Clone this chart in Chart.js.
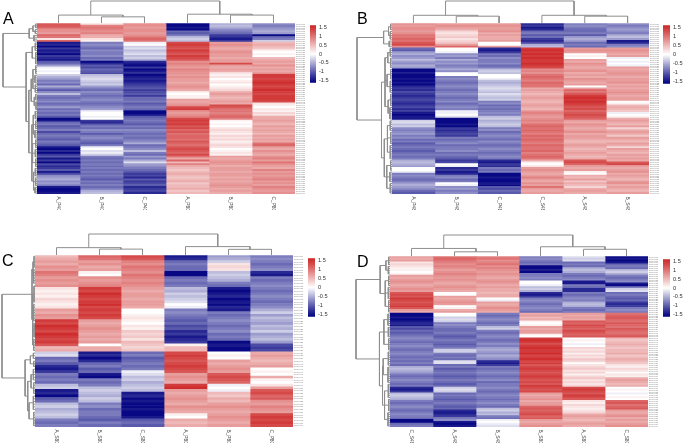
<!DOCTYPE html>
<html><head><meta charset="utf-8">
<script src="https://cdn.jsdelivr.net/npm/chart.js@4.4.1/dist/chart.umd.min.js"></script>
<style>
html,body{margin:0;padding:0;background:#fff;}
#wrap{position:relative;width:685px;height:443px;overflow:hidden;background:#fff;}
#wrap canvas{position:absolute;}
.lt{position:absolute;font-family:"Liberation Sans",Arial,sans-serif;font-size:16px;line-height:16px;color:#000;}
</style></head><body><div id="wrap"></div>
<script>
// ---------------- DATA ----------------
// Panel A
const colsA = ['A_P40','B_P40','C_P40','A_P80','B_P80','C_P80'];
const a_A_P40 = [1.2,1.2,1.1,0.8,0.8,0.7,1.1,1.0,0.2,1.1,
-1.4,-1.3,-1.5,-1.2,-1.4,-1.3,-1.5,-1.2,-1.3,-1.4,
-1.0,-0.9,-0.6,-0.1,0.0,-0.1,0.0,-0.3,-0.5,-0.6,
-0.8,-0.7,-0.9,-0.5,-0.8,-1.0,-0.7,-0.4,-0.8,-0.9,
-0.8,-0.7,-0.9,-0.8,-0.6,-0.9,-0.8,-0.9,-0.8,-1.0,
-1.5,-1.4,-0.9,-0.8,-1.0,-0.9,-0.8,-1.1,-0.9,-0.8,
-0.9,-1.0,-0.8,-0.9,-1.0,-1.4,-1.5,-1.3,-1.5,-1.2,
-1.0,-1.4,-1.2,-1.5,-1.1,-1.3,-1.2,-1.0,-1.4,-1.1,
-0.7,-0.6,-0.5,-0.7,-0.6,-0.8,-1.4,-1.5,-1.5,-1.4];
const a_B_P40 = [0.2,0.9,1.0,0.9,0.8,0.9,0.6,0.6,0.2,0.1,
-0.8,-0.7,-0.8,-0.9,-0.7,-0.8,-0.8,-0.7,-0.9,-0.8,
-1.5,-1.3,-1.0,-1.1,-0.9,-1.0,-1.1,-0.4,-0.3,-0.2,
-0.3,-0.4,-0.3,-0.6,-0.8,-0.9,-0.7,-0.8,-0.9,-0.8,
-0.7,-0.8,-0.9,-0.8,-0.7,-0.6,-0.1,0.0,0.0,-0.1,
0.0,-1.2,-1.3,-1.0,-0.8,-0.9,-0.7,-0.8,-1.0,-0.8,
-0.7,-0.8,-0.9,-1.0,-0.8,-0.1,0.0,-0.2,-0.1,-0.3,
-0.8,-0.9,-0.8,-0.9,-0.8,-0.9,-0.8,-0.9,-0.8,-0.9,
-0.8,-0.9,-1.0,-0.8,-0.9,-0.8,-0.9,-0.8,-0.5,-0.4];
const a_C_P40 = [0.8,0.8,0.7,0.8,0.8,0.7,0.8,1.0,1.1,1.0,
-0.1,0.0,-0.3,-0.2,-0.4,-0.3,-0.2,-0.4,-0.3,-0.5,
-1.3,-1.4,-1.5,-1.2,-1.5,-1.4,-1.3,-1.5,-1.4,-1.3,
-1.4,-1.3,-1.2,-1.1,-1.0,-1.2,-1.1,-1.0,-1.2,-0.9,
-0.9,-0.8,-1.0,-0.9,-0.8,-0.9,-1.5,-1.5,-1.4,-1.0,
-0.9,-0.8,-0.9,-1.0,-0.8,-0.9,-0.7,-0.8,-0.9,-0.8,
-0.9,-0.8,-0.7,-0.5,-0.9,-0.8,-0.7,-0.4,-0.8,-0.9,
-0.6,-0.8,-0.5,-0.2,-0.6,-0.7,-0.8,-0.9,-1.0,-1.2,
-1.1,-1.3,-1.0,-1.2,-1.1,-1.0,-1.3,-1.2,-1.1,-1.3];
const a_A_P80 = [-1.5,-1.5,-1.4,-1.5,-0.9,-1.0,-0.8,-0.4,-0.3,-0.4,
1.3,1.4,1.3,1.2,1.4,1.3,1.2,1.4,1.3,1.2,
0.8,0.9,0.8,0.7,0.9,0.8,0.8,0.7,0.8,0.7,
0.7,0.6,0.7,0.8,0.7,0.6,0.1,0.0,0.1,0.1,
0.7,0.6,0.7,0.8,1.3,1.4,0.8,0.7,0.8,0.9,
1.3,1.4,1.3,1.4,1.2,1.3,1.1,1.2,1.0,1.1,
1.1,1.0,1.2,1.1,1.0,1.2,1.3,1.2,1.1,1.3,
1.0,0.6,1.1,0.5,0.9,0.6,0.5,0.4,0.5,0.6,
0.5,0.4,0.5,0.6,0.4,0.5,0.5,0.6,0.4,0.5];
const a_B_P80 = [-0.5,-0.4,-0.5,-0.7,-0.8,-0.9,-1.2,-1.3,-1.4,-1.2,
0.7,0.8,0.7,0.6,0.7,0.8,0.7,0.7,0.6,0.7,
0.7,1.3,0.7,0.6,0.7,0.6,0.2,0.1,0.2,0.0,
0.1,0.2,0.0,0.1,0.2,0.3,0.6,0.7,0.6,0.5,
0.6,0.7,0.6,1.3,1.2,1.0,1.0,0.9,1.0,1.1,
0.9,0.1,0.0,0.1,0.0,0.2,0.3,0.2,0.1,0.3,
0.2,0.3,0.1,0.2,0.3,0.2,0.0,0.1,0.2,0.1,
0.7,0.6,0.7,0.8,0.7,0.6,0.7,0.7,0.6,0.7,
0.7,0.6,0.7,0.6,0.7,0.8,0.7,0.6,0.7,0.6];
const a_C_P80 = [-0.7,-0.8,-0.7,-0.6,-0.5,-0.6,-1.5,-0.9,-0.8,-0.3,
0.5,0.6,0.5,0.4,0.1,0.0,0.1,0.0,0.5,0.6,
0.7,0.6,0.8,0.6,0.7,0.6,0.8,1.4,1.4,1.3,
1.4,1.5,1.4,1.3,1.4,1.5,1.4,1.3,1.4,1.4,
1.4,1.3,0.2,0.1,0.0,0.2,0.1,0.3,0.2,0.6,
0.6,0.7,0.6,0.5,0.7,0.6,0.7,0.6,0.5,0.7,
0.6,0.7,0.6,1.0,1.1,0.7,0.6,0.8,0.7,0.6,
0.8,0.9,0.7,1.0,0.8,0.7,0.6,0.9,0.7,0.8,
0.7,0.8,0.9,0.7,0.8,0.7,0.9,0.8,0.7,0.8];

// Panel B
const colsB = ['A_P48','B_P48','C_P48','C_S48','A_S48','B_S48'];
const b_A_P48 = [0.8,0.7,0.8,0.8,0.7,0.8,1.0,1.0,1.1,1.0,
1.2,1.3,0.8,-0.9,-1.0,-0.6,-0.5,-0.7,-0.6,-0.4,
-0.6,-0.7,-0.5,-0.6,-1.5,-1.5,-1.4,-1.5,-1.5,-1.4,
-1.5,-1.4,-1.5,-1.3,-1.2,-1.3,-1.1,-1.2,-1.3,-1.2,
-1.1,-1.2,-1.3,-1.2,-1.1,-1.3,-1.2,-1.4,-1.5,-1.4,
-1.4,-0.3,-0.2,-0.4,-0.3,-0.7,-0.8,-0.7,-0.6,-0.8,
-0.7,-0.9,-0.8,-1.0,-0.9,-0.8,-0.9,-1.0,-0.9,-0.8,
-0.9,-0.8,-0.5,-0.4,-0.5,-0.6,0.0,0.0,-0.1,-0.8,
-0.7,-0.8,-0.9,-0.8,-0.6,-0.5,-0.6,-0.7,-0.9,-1.0];
const b_B_P48 = [0.7,0.8,0.7,0.6,0.3,0.2,0.3,0.4,0.2,0.3,
0.4,0.7,1.1,0.0,0.0,-0.1,-0.7,-0.6,-0.8,-0.5,
-0.7,-0.6,-0.8,-0.7,-0.5,-0.7,0.0,0.0,-0.8,-0.7,
-0.8,-0.9,-0.8,-0.7,-0.8,-0.9,-0.8,-0.7,-0.8,-0.9,
-0.8,-0.7,-0.9,-0.8,-0.7,-0.8,-0.1,-0.1,0.0,-0.2,
-1.5,-1.5,-1.5,-1.4,-1.5,-1.2,-1.3,-1.2,-1.1,-1.2,
-0.8,-0.9,-0.8,-0.7,-0.9,-0.8,-0.8,-0.7,-0.9,-0.8,
-0.9,-1.0,-1.2,-1.1,0.0,-0.1,-1.3,-1.2,-1.4,-1.3,
-0.8,-0.7,-0.9,-0.8,0.0,-0.1,-0.7,-0.6,-0.8,-0.7];
const b_C_P48 = [0.7,0.8,0.7,0.7,0.8,0.6,0.7,0.6,0.6,0.7,
0.0,0.0,0.7,-1.3,-1.4,-1.2,-0.8,-0.9,-0.7,-0.8,
-0.8,-0.7,-0.9,-0.8,-0.4,-0.3,-0.4,0.0,0.0,-0.1,
-0.4,-0.5,-0.4,-0.3,-0.2,-0.3,-0.4,-0.2,-0.3,-0.4,
-0.3,-0.8,-0.7,-0.9,-0.8,-0.9,-0.8,-0.7,-0.8,-0.4,
-0.3,-0.5,-0.4,-0.3,-0.4,-0.8,-0.7,-0.9,-0.8,-0.7,
-0.8,-0.9,-0.7,-0.8,-0.9,-0.8,-0.7,-0.8,-0.9,-0.8,
-0.7,-0.8,-1.3,-1.4,-1.2,-1.3,-0.8,-0.9,-0.8,-1.5,
-1.5,-1.4,-1.5,-1.5,-1.4,-1.5,-1.0,-1.1,-0.9,-1.0];
const b_C_S48 = [-1.3,-1.2,-1.4,-1.3,-0.9,-0.8,-1.0,-0.9,-1.2,-1.3,
-1.1,-0.5,-0.4,1.4,1.5,1.4,1.5,1.4,1.5,1.4,
1.4,1.5,1.4,1.3,0.8,0.9,0.8,1.0,1.1,1.0,
0.9,1.1,1.0,1.0,0.6,0.7,0.6,0.5,0.6,0.7,
0.6,0.5,0.6,0.7,0.6,0.5,0.8,0.9,0.8,0.7,
0.8,0.9,0.8,1.0,1.1,1.0,1.1,1.0,0.9,1.1,
1.0,1.1,1.0,0.9,1.1,1.0,1.0,1.1,0.9,1.0,
1.1,1.0,0.6,0.1,0.0,0.2,0.7,0.8,0.7,0.6,
0.7,0.9,0.7,0.6,0.8,0.7,1.0,0.7,0.6,0.7];
const b_A_S48 = [-0.8,-0.7,-0.8,-0.9,-0.9,-0.8,-1.0,-0.6,-0.5,-0.6,
-0.9,-0.8,-0.9,0.7,0.8,0.7,0.0,0.1,0.0,0.7,
0.6,0.8,0.7,0.6,0.7,0.8,0.6,0.7,0.6,0.8,
0.7,0.6,0.7,0.0,0.7,1.1,1.0,1.2,1.4,1.5,
1.4,1.5,1.4,1.3,1.2,1.3,1.1,1.2,1.3,1.2,
1.1,0.7,0.6,0.8,0.7,0.6,0.7,0.8,0.6,0.7,
0.7,0.6,0.5,0.6,0.7,0.6,0.5,0.6,0.7,0.6,
0.5,0.6,1.2,1.3,1.1,0.7,0.6,0.7,0.1,0.0,
0.6,0.5,0.7,0.4,0.6,0.5,0.3,0.6,0.7,0.6];
const b_B_S48 = [-0.7,-0.8,-0.7,-0.6,-0.7,-0.8,-0.5,-0.4,-0.6,-1.4,
-1.3,-0.8,-0.7,0.7,0.8,0.7,0.6,0.7,-0.1,0.0,
-0.1,0.0,-0.1,0.7,0.6,0.7,0.8,0.7,0.6,0.7,
0.7,0.8,0.6,0.7,0.6,0.7,0.8,0.7,0.6,0.7,
0.7,0.0,0.1,0.5,0.6,0.5,0.4,-0.1,0.0,0.1,
0.6,0.7,0.6,0.5,0.7,0.3,0.6,0.7,0.6,0.4,
0.7,0.6,0.5,0.7,0.6,0.3,0.7,0.6,0.5,0.7,
0.6,0.7,0.6,1.2,1.3,0.7,0.6,0.7,0.8,0.6,
0.7,0.6,0.5,0.7,0.8,0.6,0.7,0.6,0.5,0.7];

// Panel C
const colsC = ['A_S80','B_S80','C_S80','A_P80','B_P80','C_P80'];
const c_A_S80 = [0.5,0.6,0.7,0.6,0.8,0.7,1.0,0.9,0.7,0.8,
0.7,0.8,0.2,0.1,0.2,0.1,0.3,0.2,0.1,0.2,
0.7,0.6,0.8,0.7,1.4,1.3,1.5,1.4,1.3,1.5,
1.4,1.3,1.4,1.2,0.5,0.6,-0.3,-0.2,-0.9,-0.8,
-1.0,-1.3,-1.4,-1.2,-0.8,-0.9,-0.8,-0.9,-0.4,-0.3,
-1.4,-1.3,-1.5,-1.0,-0.9,-0.4,-0.3,-0.5,-0.4,-0.3,
-0.4,-0.8,-0.9,-0.8];
const c_B_S80 = [1.1,1.0,0.7,0.8,0.6,0.7,0.1,0.0,0.8,0.7,
0.8,0.9,1.4,1.3,1.5,1.4,1.3,1.4,1.5,1.3,
1.4,1.3,1.4,1.3,0.7,0.6,0.7,0.8,0.7,0.6,
0.7,0.6,0.7,0.0,0.6,0.6,-1.4,-1.3,-1.5,-1.3,
-0.9,-0.8,-1.0,-0.9,-1.4,-1.5,-0.8,-0.9,-0.8,-0.4,
-0.3,-0.4,-0.5,-0.3,-0.4,-0.8,-0.7,-0.9,-0.8,-0.8,
-0.9,-1.0,-0.8,-0.9];
const c_C_S80 = [1.3,1.2,0.9,0.8,1.0,0.9,0.8,1.0,0.9,0.8,
0.9,0.8,0.7,0.6,0.7,0.7,0.6,0.7,0.7,0.6,
0.0,0.0,0.1,0.2,0.1,0.0,0.2,0.1,0.4,0.3,
0.4,0.2,0.5,0.4,0.3,0.4,-0.9,-0.8,-1.0,-0.9,
-0.8,-0.9,-0.8,-0.1,-0.2,-0.4,-0.3,-0.5,-0.4,-0.3,
-0.4,-1.4,-1.3,-1.5,-1.4,-1.5,-1.5,-1.4,-1.5,-1.5,
-1.4,-1.0,-0.9,-1.0];
const c_A_P80 = [-1.4,-1.3,-0.9,-0.8,-0.9,-0.9,-1.5,-1.5,-0.9,-0.8,
-0.9,-0.8,-0.4,-0.5,-0.3,-0.4,-0.3,-0.2,0.0,-0.1,
-0.8,-0.7,-0.8,-0.9,-1.0,-0.9,-1.1,-1.0,-1.3,-1.2,
-1.4,-1.3,-1.2,0.1,0.5,0.5,1.3,1.4,1.3,1.2,
1.3,1.4,1.3,1.2,0.7,0.8,0.7,0.6,1.4,1.5,
0.7,0.6,0.7,0.8,0.7,0.6,0.8,0.7,0.6,0.1,
0.0,0.6,0.5,0.6];
const c_B_P80 = [-0.6,-0.5,-0.3,0.2,0.3,0.2,-0.4,-0.3,-0.4,-0.5,
-0.8,-0.9,-1.4,-1.5,-1.4,-1.3,-1.5,-1.4,-1.5,-1.3,
-1.4,-0.8,-0.9,-0.8,-0.7,-0.8,-0.9,-0.8,-0.7,-0.9,
-0.8,-0.9,-1.5,-1.4,-1.5,-1.5,0.0,0.1,0.0,0.7,
0.6,0.7,0.8,0.7,1.2,1.3,1.2,1.1,-0.1,0.0,
-0.1,0.5,0.4,0.6,0.5,0.7,0.8,0.7,0.6,0.7,
0.8,0.7,0.6,0.7];
const c_C_P80 = [-0.8,-0.7,-0.8,-0.9,-0.8,-0.7,-1.3,-1.4,-0.8,-0.9,
-0.8,-0.7,-0.8,-0.9,-0.8,-0.7,-0.8,-0.9,-0.8,-0.7,
-0.5,-0.3,-0.6,-0.4,-0.5,-0.6,-0.4,-0.5,-0.3,-0.6,
-0.5,-0.4,-0.6,-1.1,-1.2,-1.1,0.6,0.7,0.6,0.5,
0.6,0.7,0.0,0.1,0.0,0.6,0.1,0.0,0.2,0.7,
1.2,1.3,1.1,1.2,0.8,0.7,0.9,0.8,0.7,1.3,
1.4,1.3,1.4,1.3];

// Panel D
const colsD = ['C_S48','A_S48','B_S48','B_S80','A_S80','C_S80'];
const d_C_S48 = [0.7,0.6,0.7,0.2,0.3,0.2,0.1,0.1,0.0,0.1,
0.7,0.6,0.7,0.8,0.7,0.6,0.7,0.8,0.7,1.2,
1.3,1.2,1.4,1.3,1.2,1.3,1.4,1.2,0.7,0.6,
-1.5,-1.5,-1.4,-1.5,-1.4,-1.3,-1.4,-1.0,-1.1,-0.9,
-1.0,-0.9,-0.8,-0.7,-0.8,-0.9,-0.8,-0.7,-0.8,-0.9,
-0.8,-0.7,-0.8,-0.9,-0.8,-0.9,-0.8,-0.9,-0.5,-0.4,
-0.5,-0.6,-0.8,-0.9,-0.8,-0.7,-0.8,-0.9,-0.8,-1.3,
-1.4,-1.2,-0.4,-0.3,-0.4,-0.5,-0.8,-0.9,-0.8,-0.7,
-0.8,-0.9,-0.8,-0.7,-0.8,-0.9,-1.5,-1.5,-0.9,-0.8];
const d_A_S48 = [1.0,1.1,1.0,0.9,0.8,0.9,0.8,0.7,0.8,0.9,
0.8,0.7,0.8,0.7,0.6,0.7,0.8,0.7,0.6,0.0,
0.0,0.7,0.6,0.7,0.8,0.7,0.0,0.1,0.6,0.7,
0.0,0.0,-0.3,-0.2,-0.3,-0.8,-0.7,-0.8,-0.9,-0.9,
-0.8,-0.9,-1.0,-0.9,-0.8,-0.9,-1.0,-0.9,-0.8,-0.3,
-0.3,-0.8,-0.9,-0.8,-0.9,-0.2,-0.2,-0.9,-0.8,-1.0,
-0.9,-0.8,-0.9,-1.0,-0.9,-0.8,-0.9,-1.0,-0.9,-0.3,
-0.2,-0.3,-0.9,-0.8,-0.9,-1.0,-0.9,-0.8,-0.9,-1.0,
-0.9,-1.3,-1.4,-1.3,-1.2,-0.8,-0.7,-1.4,-1.5,-1.4];
const d_B_S48 = [0.9,1.0,0.8,0.9,1.0,0.8,0.9,0.8,0.7,0.8,
0.7,0.6,0.7,0.8,0.7,0.6,0.7,0.6,0.6,0.5,
0.6,0.6,0.0,-0.1,0.7,0.6,0.7,0.8,0.7,0.6,
-0.8,-0.9,-0.8,-0.7,-0.8,-0.9,-0.8,-0.4,-0.3,-0.8,
-0.9,-0.8,-0.7,-0.8,-0.9,-0.8,-0.7,-0.8,-0.6,-0.5,
-0.6,-0.7,-0.5,-0.6,-0.7,-1.3,-1.4,-1.2,-0.8,-0.9,
-0.8,-0.7,-0.8,-0.9,-0.8,-0.7,-0.9,-0.8,-0.8,-0.7,
-0.8,-0.9,-0.8,-0.7,-0.8,-0.9,-0.8,-0.7,-0.8,-0.9,
-0.4,-0.3,-0.5,-0.4,-0.8,-0.9,-0.1,0.0,-0.1,-0.2];
const d_B_S80 = [-0.8,-0.7,-0.8,-0.9,-0.8,-1.5,-1.5,-1.4,-1.5,-0.8,
-0.8,-0.7,-0.8,0.0,0.0,-0.1,-0.4,-0.3,-0.5,-1.3,
-1.4,-1.2,-0.8,-0.7,-0.8,-0.9,-0.8,-0.7,-0.8,-0.9,
0.6,0.7,0.5,0.6,0.1,0.0,0.1,0.7,0.6,0.7,
0.7,0.1,0.0,1.4,1.5,1.4,1.3,1.4,1.5,1.4,
1.4,1.5,1.3,1.4,1.5,1.3,1.4,1.2,1.3,1.4,
1.3,1.2,1.3,1.4,1.3,1.2,1.3,1.2,1.4,1.3,
1.2,1.3,0.7,0.6,0.7,0.8,0.6,0.7,0.7,1.1,
1.2,1.1,1.2,1.3,1.1,1.2,0.7,0.6,0.7,0.8];
const d_A_S80 = [-0.2,-0.3,-0.2,-0.9,-0.8,-0.9,-0.5,-0.4,-0.5,-0.8,
-0.9,-0.8,-0.7,-1.4,-1.4,-0.8,-0.9,-1.3,-1.3,-0.8,
-0.9,-0.8,-0.7,-0.8,-0.5,-0.4,-0.5,-0.8,-0.9,-0.8,
0.7,0.6,0.7,0.6,1.2,1.1,1.3,1.2,1.1,1.3,
1.2,1.1,1.2,0.0,0.1,0.0,-0.1,0.0,0.3,0.2,
0.3,0.1,0.3,0.2,0.4,0.3,0.0,0.2,0.3,0.4,
0.2,0.3,0.1,0.3,0.4,0.2,0.3,0.2,0.3,1.3,
1.4,1.3,1.2,1.4,1.3,1.2,0.2,0.1,0.3,0.2,
0.1,0.2,0.3,0.6,0.7,0.6,0.5,0.6,0.7,0.6];
const d_C_S80 = [-1.5,-1.4,-1.5,-1.4,-0.9,-0.8,-0.9,-0.4,-0.3,-0.5,
-0.8,-0.9,-0.8,-0.7,-1.4,-1.5,-0.8,-0.3,-0.2,-0.9,
-0.8,-0.9,-1.0,-0.9,-1.2,-1.3,-1.2,-0.8,-0.7,-0.8,
1.0,1.1,1.2,1.1,1.0,1.2,1.1,1.0,1.2,1.1,
1.0,1.1,1.2,0.5,0.4,0.5,0.6,0.5,0.4,0.5,
0.5,0.6,0.4,0.5,0.6,0.5,0.4,0.2,0.1,0.3,
0.2,0.0,0.2,0.1,0.6,0.7,0.6,0.5,0.6,0.0,
0.1,0.0,-0.1,0.0,0.1,0.0,1.1,1.2,1.0,1.1,
1.2,0.7,0.6,0.7,0.8,0.6,0.7,0.6,0.7,0.8];

// Column dendrograms: [mergeHeight, left, right]; leaves are column indices
const colTreeA = [100, [36, 0, [28, 1, 2]], [40, 3, [36, 4, 5]]];
const colTreeB = [100, [35, 0, [31, 1, 2]], [35, 3, [31, 4, 5]]];
const colTreeC = [100, [35, 0, [28, 1, 2]], [40, 3, [27, 4, 5]]];
const colTreeD = [100, [36, 0, [20, 1, 2]], [44, 3, [32, 4, 5]]];

// Row dendrograms: [h, [children]] or leaf block [h, firstRow, lastRow]
const rowTreeA = [100, [
  [23, [[12, [[4,0,2],[5,3,5]]], [9,6,9]]],
  [32, [
    [14, [[5,10,14],[4,15,21]]],
    [24, [
      [17, [[12, [[4,22,26],[6,27,31],[5,32,36]]], [8, [[4,37,40],[3,41,45]]]]],
      [15, [[11, [[5,46,50],[4,51,55],[6,56,60]]], [13, [[4,61,65],[5,66,70],[4,71,75]]], [10, [[5,76,80],[4,81,85],[6,86,89]]]]]
    ]]
  ]]
]];
const rowTreeB = [100, [
  [24, [[10, [[4,0,3],[5,4,8]]], [8,9,12]]],
  [30, [
    [20, [[12, [[5,13,17],[4,18,23]]], [14, [[4,24,29],[5,30,36]]], [11, [[4,37,43],[6,44,50]]]]],
    [22, [[13, [[5,51,56],[4,57,63],[5,64,71]]], [15, [[4,72,77],[6,78,83],[5,84,89]]]]]
  ]]
]];
const rowTreeC = [100, [
  [9, [[6, [[3,0,4],[4,5,10]]], [7, [[3,11,17],[4,18,24],[3,25,30],[4,31,35]]]]],
  [30, [
    [14, [[5,36,38],[4,39,41]]],
    [22, [[12, [[5,42,46],[4,47,51]]], [18, [[5,52,57],[4,58,63]]]]]
  ]]
]];
const rowTreeD = [100, [
  [29, [[12, [[4,0,4],[5,5,9]]], [14, [[4,10,15],[5,16,22],[4,23,29]]]]],
  [31, [
    [18, [[6,30,36],[5,37,42],[4,43,49]]],
    [22, [[20, [[5,50,57],[6,58,66]]], [16, [[5,67,74],[4,75,81],[6,82,89]]]]]
  ]]
]];

// Colour key
const legendTicks = [-1.5, -1, -0.5, 0, 0.5, 1, 1.5];
const legendRange = [-1.6, 1.6];

// ---------------- RENDER ----------------
Chart.defaults.font.family = "'Liberation Sans', Arial, sans-serif";
const wrap = document.getElementById('wrap');

function heatColor(v){
  const t = Math.max(-1, Math.min(1, v / 1.55));
  const end = t < 0 ? [0,0,128] : [205,38,38];
  const a = Math.abs(t);
  const c = [255,255,255].map((w,i)=>Math.round(w + (end[i]-w)*a));
  return 'rgb(' + c.join(',') + ')';
}
function makeCanvas(l,t,w,h){
  const c = document.createElement('canvas');
  c.width = w; c.height = h;
  c.style.left = l+'px'; c.style.top = t+'px';
  c.style.width = w+'px'; c.style.height = h+'px';
  wrap.appendChild(c);
  return c;
}
const baseOpts = {responsive:false, animation:false, events:[],
  plugins:{legend:{display:false}, tooltip:{enabled:false}}};

function heatmap(g, cols, vals, rowLabels){
  const cv = makeCanvas(g.l, g.t-2, g.w+10, g.h+18);
  const labelPlugin = {id:'colLabels', afterDraw(chart){
    const {ctx, chartArea, scales} = chart;
    ctx.save();
    ctx.fillStyle = '#444';
    ctx.font = "4.8px 'Liberation Sans', Arial, sans-serif";
    ctx.textAlign = 'left'; ctx.textBaseline = 'middle';
    cols.forEach((lab,i)=>{
      const px = scales.x.getPixelForValue(i+0.5);
      ctx.save(); ctx.translate(px, chartArea.bottom+2.5); ctx.rotate(Math.PI/2);
      ctx.fillText(lab, 0, 0); ctx.restore();
    });
    ctx.restore();
  }};
  new Chart(cv, {
    type:'bar',
    data:{labels: rowLabels, datasets: cols.map((name,c)=>({
      label:name, data: vals[c].map(()=>[c, c+1]),
      backgroundColor: vals[c].map(heatColor), borderWidth:0,
      barPercentage:1, categoryPercentage:1, grouped:false }))},
    options:Object.assign({}, baseOpts, {
      indexAxis:'y',
      layout:{padding:{top:2,right:0,bottom:16,left:0}},
      scales:{
        x:{type:'linear', min:0, max:6, display:false},
        y:{type:'category', position:'right', grid:{display:false, drawTicks:false}, border:{display:false},
           ticks:{autoSkip:false, font:{size:2.3}, color:'#8a8a8a', padding:0.8},
           afterFit(s){ s.width = 10; }}
      }}),
    plugins:[labelPlugin]
  });
}

function lineSets(segs){
  return segs.map(s=>({data:s.map(p=>({x:p[0], y:p[1]})), showLine:true,
    borderColor:'#8e8e8e', borderWidth:1, pointRadius:0, tension:0, fill:false, clip:false}));
}
function colSegs(node){
  if (typeof node === 'number') return {x:node+0.5, h:0, segs:[]};
  const [h, l, r] = node;
  const L = colSegs(l), R = colSegs(r);
  return {x:(L.x+R.x)/2, h, segs:[...L.segs, ...R.segs, [[L.x,L.h],[L.x,h],[R.x,h],[R.x,R.h]]]};
}
function rowSegs(node){
  const h = node[0];
  if (Array.isArray(node[1])){
    const kids = node[1].map(rowSegs);
    const segs = kids.flatMap(k=>k.segs);
    kids.forEach(k=>segs.push([[k.h,k.y],[h,k.y]]));
    const y0 = kids[0].y, y1 = kids[kids.length-1].y;
    segs.push([[h,y0],[h,y1]]);
    return {y:(y0+y1)/2, h, segs};
  }
  const a = node[1], b = node[2];
  const segs = [];
  for (let r=a; r<=b; r++) segs.push([[0,r+0.5],[h,r+0.5]]);
  segs.push([[h,a+0.5],[h,b+0.5]]);
  return {y:(a+b+1)/2, h, segs};
}
function topDendro(g, d, tree){
  const cv = makeCanvas(g.l, d.t, g.w, d.h);
  new Chart(cv, {type:'scatter', data:{datasets: lineSets(colSegs(tree).segs)},
    options:Object.assign({}, baseOpts, {layout:{padding:{top:1,left:0,right:0,bottom:0}},
      scales:{x:{type:'linear',min:0,max:6,display:false}, y:{type:'linear',min:0,max:100,display:false}}})});
}
function rowDendro(g, d, tree, n){
  const cv = makeCanvas(d.l, g.t, g.l-d.l, g.h);
  new Chart(cv, {type:'scatter', data:{datasets: lineSets(rowSegs(tree).segs)},
    options:Object.assign({}, baseOpts, {layout:{padding:{left:1,top:0,right:0,bottom:0}},
      scales:{x:{type:'linear',min:0,max:100,reverse:true,display:false},
              y:{type:'linear',min:0,max:n,reverse:true,display:false}}})});
}
function colorKey(c){
  const cv = makeCanvas(c.l, c.t-4, c.w+16, c.h+8);
  new Chart(cv, {type:'bar', data:{labels:[''], datasets:[{data:[legendRange],
      backgroundColor:(ctx)=>{
        const ca = ctx.chart.chartArea; if (!ca) return '#fff';
        const gr = ctx.chart.ctx.createLinearGradient(0, ca.top, 0, ca.bottom);
        const span = legendRange[1]-legendRange[0];
        [1.6,1.2,0.8,0.4,0,-0.4,-0.8,-1.2,-1.6].forEach(v=>gr.addColorStop((legendRange[1]-v)/span, heatColor(v)));
        return gr;
      }, borderWidth:0, barPercentage:1, categoryPercentage:1}]},
    options:Object.assign({}, baseOpts, {layout:{padding:{top:4,bottom:4,left:0,right:0}},
      scales:{x:{display:false},
        y:{min:legendRange[0], max:legendRange[1], position:'right', grid:{display:false, drawTicks:false}, border:{display:false},
           afterBuildTicks(s){ s.ticks = legendTicks.map(v=>({value:v})); },
           ticks:{font:{size:5.6}, color:'#333', padding:3, callback:v=>String(v)},
           afterFit(s){ s.width = 16; }}}})});
}
function letter(txt, l, t){
  const d = document.createElement('div'); d.className='lt'; d.textContent=txt;
  d.style.left=l+'px'; d.style.top=t+'px'; wrap.appendChild(d);
}

const panels = [
  {letter:'A', lp:[3,11], cols:colsA, vals:[a_A_P40,a_B_P40,a_C_P40,a_A_P80,a_B_P80,a_C_P80], colTree:colTreeA, rowTree:rowTreeA,
   heat:{l:37,t:23,w:258,h:171}, rowD:{l:2}, topD:{t:0,h:23}, key:{l:310,t:23,w:6,h:62}},
  {letter:'B', lp:[357,11], cols:colsB, vals:[b_A_P48,b_B_P48,b_C_P48,b_C_S48,b_A_S48,b_B_S48], colTree:colTreeB, rowTree:rowTreeB,
   heat:{l:392,t:23,w:257,h:171}, rowD:{l:356}, topD:{t:0,h:23}, key:{l:663,t:23,w:7,h:63}},
  {letter:'C', lp:[2,253], cols:colsC, vals:[c_A_S80,c_B_S80,c_C_S80,c_A_P80,c_B_P80,c_C_P80], colTree:colTreeC, rowTree:rowTreeC,
   heat:{l:35,t:255,w:258,h:172}, rowD:{l:1}, topD:{t:233,h:22}, key:{l:308,t:256,w:7,h:63}},
  {letter:'D', lp:[357,254], cols:colsD, vals:[d_C_S48,d_A_S48,d_B_S48,d_B_S80,d_A_S80,d_C_S80], colTree:colTreeD, rowTree:rowTreeD,
   heat:{l:390,t:256,w:258,h:171}, rowD:{l:355}, topD:{t:234,h:22}, key:{l:663,t:257,w:7,h:62}}
];

panels.forEach(p=>{
  const n = p.vals[0].length;
  const rowLabels = p.vals[0].map((_,i)=>'Gene' + String(i+1).padStart(3,'0'));
  heatmap(p.heat, p.cols, p.vals, rowLabels);
  topDendro(p.heat, p.topD, p.colTree);
  rowDendro(p.heat, p.rowD, p.rowTree, n);
  colorKey(p.key);
  letter(p.letter, p.lp[0], p.lp[1]);
});
</script></body></html>
